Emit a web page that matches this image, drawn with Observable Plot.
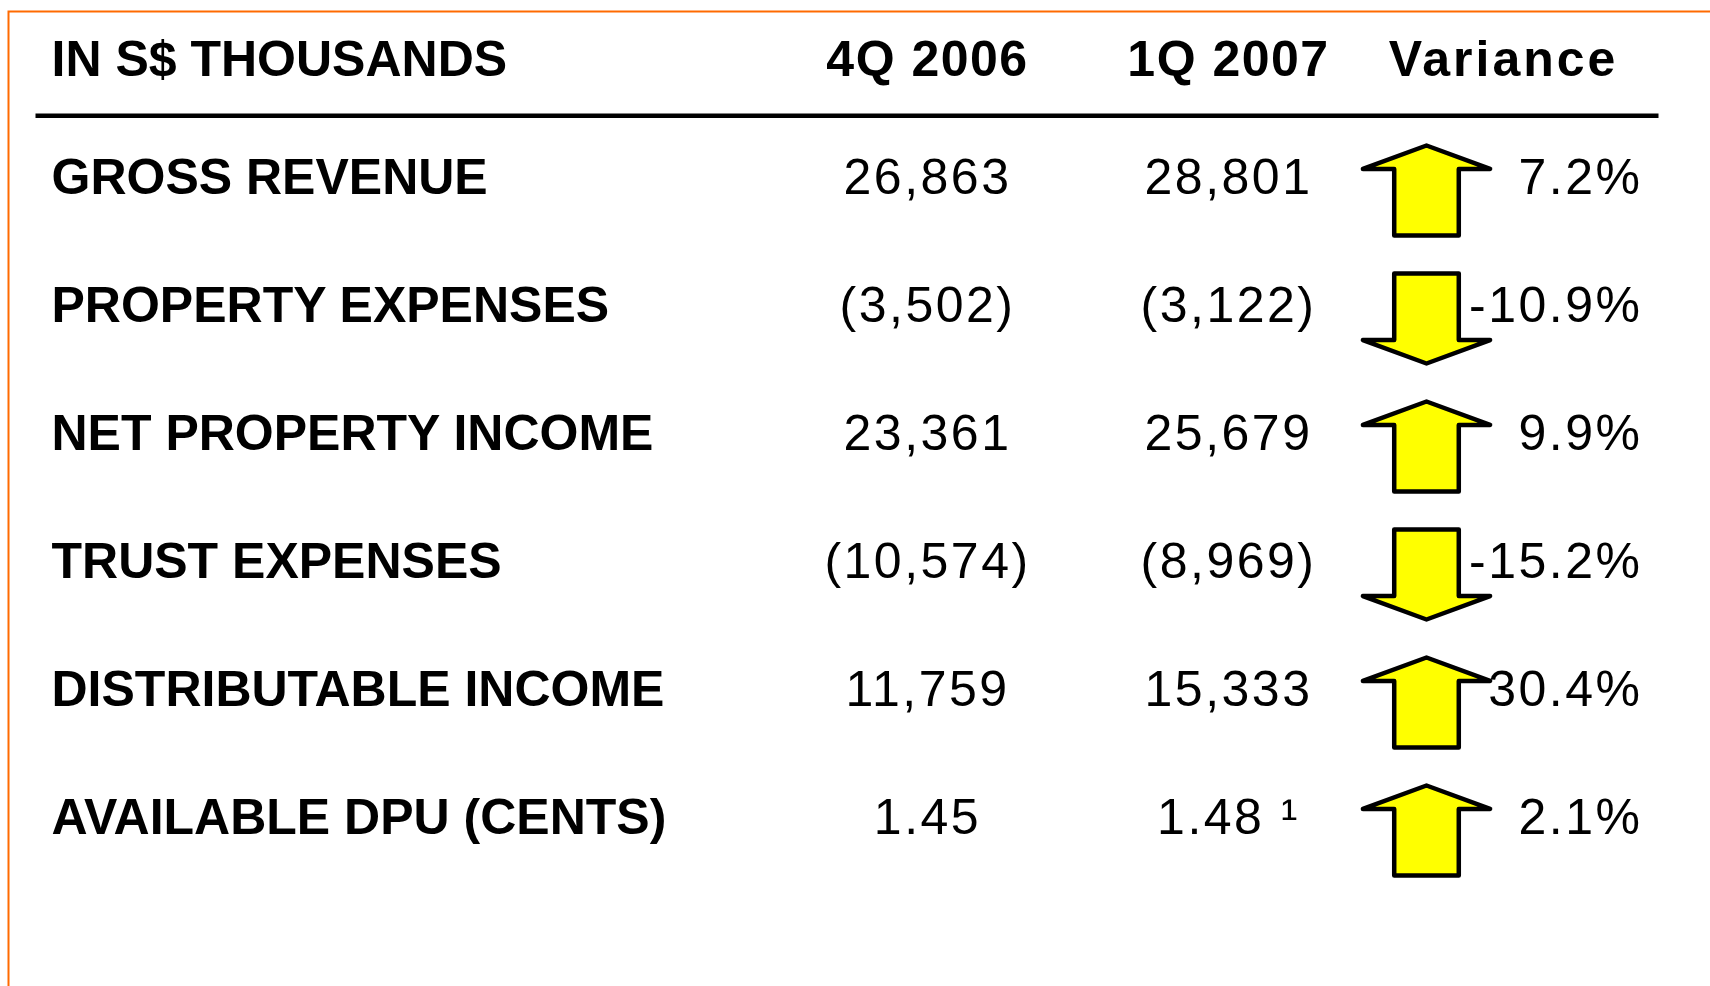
<!DOCTYPE html>
<html>
<head>
<meta charset="utf-8">
<script src="https://cdn.jsdelivr.net/npm/d3@7"></script>
<script src="https://cdn.jsdelivr.net/npm/@observablehq/plot@0.6"></script>
<style>
  html, body { margin: 0; padding: 0; background: #fff; }
  #chart svg { display: block; }
</style>
</head>
<body>
<div id="chart"></div>
<script>
// ---- data ----
const tableTitle = "IN S$ THOUSANDS";
const columns = ["4Q 2006", "1Q 2007", "Variance"];
const labels = [
  "GROSS REVENUE",
  "PROPERTY EXPENSES",
  "NET PROPERTY INCOME",
  "TRUST EXPENSES",
  "DISTRIBUTABLE INCOME",
  "AVAILABLE DPU (CENTS)"
];
const q4_2006 = [26863, -3502, 23361, -10574, 11759, 1.45];
const q1_2007 = [28801, -3122, 25679, -8969, 15333, 1.48];
const variance = [7.2, -10.9, 9.9, -15.2, 30.4, 2.1];
const footnotes = ["", "", "", "", "", "1"];

// ---- helpers ----
const fmtThousands = d3.format(",");
function fmtValue(v) {
  if (Math.abs(v) < 100) return v.toFixed(2);
  const s = fmtThousands(Math.abs(v));
  return v < 0 ? `(${s})` : s;
}
const rows = labels.map((label, i) => ({
  label,
  q4: fmtValue(q4_2006[i]),
  q1: fmtValue(q1_2007[i]) + (footnotes[i] ? " \u00B9" : ""),
  variance: variance[i],
  varText: variance[i].toFixed(1) + "%"
}));

function arrowSymbol(dir) {
  return {
    draw(ctx, size) {
      const r = Math.sqrt(size / Math.PI);
      const k = r / 46 * dir;
      ctx.moveTo(0, -46 * k);
      ctx.lineTo(65 * k, -22 * k);
      ctx.lineTo(33 * k, -22 * k);
      ctx.lineTo(33 * k, 46 * k);
      ctx.lineTo(-33 * k, 46 * k);
      ctx.lineTo(-33 * k, -22 * k);
      ctx.lineTo(-65 * k, -22 * k);
      ctx.closePath();
    }
  };
}
const upArrow = arrowSymbol(1);
const downArrow = arrowSymbol(-1);

const font = "'Liberation Sans', Arial, Helvetica, sans-serif";

const chart = Plot.plot({
  width: 1710,
  height: 986,
  margin: 0,
  style: { fontFamily: font, background: "#fff", overflow: "hidden" },
  x: { type: "point", domain: columns, range: [926, 1528], padding: 0, axis: null },
  y: { type: "point", domain: labels, range: [175, 819], padding: 0, axis: null },
  marks: [
    // orange border (extends beyond right/bottom edges)
    Plot.frame({ stroke: "#ff6a00", strokeWidth: 2, insetLeft: 8, insetTop: 11, insetRight: -20, insetBottom: -20 }),
    // header rule
    Plot.frame({ fill: "#000", stroke: "none", insetTop: 113, insetBottom: 986 - 117.5, insetLeft: 35, insetRight: 1710 - 1658 }),
    // header
    Plot.text([tableTitle], { text: d => d, frameAnchor: "top-left", dx: 51, dy: 59, textAnchor: "start", lineAnchor: "middle", fontSize: 50, fontWeight: "bold", fill: "#000" }),
    Plot.text(columns.slice(0, 2), { x: d => d, text: d => d, frameAnchor: "top", dy: 59, dx: 1, lineAnchor: "middle", fontSize: 50, fontWeight: "bold", fill: "#000" }),
    Plot.text(columns.slice(2), { x: d => d, text: d => d, frameAnchor: "top", dy: 59, dx: -25, lineAnchor: "middle", fontSize: 50, fontWeight: "bold", fill: "#000" }),
    // row labels
    Plot.text(rows, { y: "label", text: "label", frameAnchor: "left", dx: 51, textAnchor: "start", lineAnchor: "middle", fontSize: 50, fontWeight: "bold", fill: "#000" }),
    // values
    Plot.text(rows, { x: () => "4Q 2006", y: "label", text: "q4", dx: 1, lineAnchor: "middle", fontSize: 50, fill: "#000" }),
    Plot.text(rows, { x: () => "1Q 2007", y: "label", text: "q1", dx: 1, lineAnchor: "middle", fontSize: 50, fill: "#000" }),
    // arrows
    Plot.dot(rows.filter(d => d.variance >= 0), { x: () => "Variance", y: "label", dx: -102, dy: 13, r: 45, symbol: upArrow, fill: "#ffff00", stroke: "#000", strokeWidth: 4.5, strokeLinejoin: "round" }),
    Plot.dot(rows.filter(d => d.variance < 0), { x: () => "Variance", y: "label", dx: -102, dy: 13, r: 45, symbol: downArrow, fill: "#ffff00", stroke: "#000", strokeWidth: 4.5, strokeLinejoin: "round" }),
    // variance text
    Plot.text(rows, { x: () => "Variance", y: "label", text: "varText", dx: 114, textAnchor: "end", lineAnchor: "middle", fontSize: 50, fill: "#000" })
  ]
});

const svg = d3.select(chart);
svg.selectAll("g").filter(function () {
  return this.getAttribute("font-size") === "50" && this.getAttribute("font-weight") !== "bold";
}).attr("letter-spacing", 2.5);
svg.selectAll("text").filter(function () { return this.textContent === "Variance"; }).attr("letter-spacing", 3);
svg.selectAll("text").filter(function () { return /^[14]Q 20/.test(this.textContent); }).attr("letter-spacing", 1.5);
document.getElementById("chart").append(chart);
</script>
</body>
</html>
